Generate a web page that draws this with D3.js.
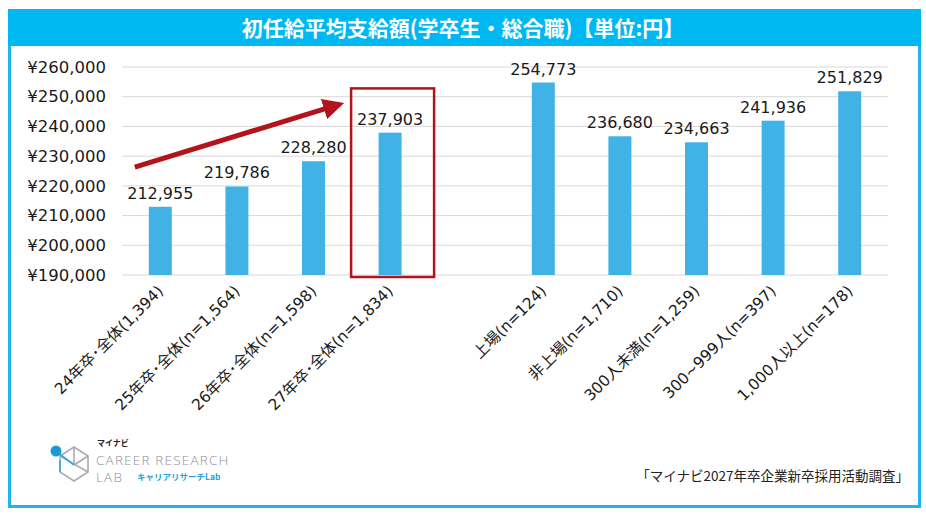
<!DOCTYPE html>
<html lang="ja">
<head>
<meta charset="utf-8">
<script src="https://cdn.jsdelivr.net/npm/d3@7"></script>
<style>
  html, body { margin: 0; padding: 0; background: #fff; }
  svg { display: block; }
</style>
</head>
<body>
<svg id="chart" width="926" height="516"></svg>
<script>
// data
const categories = [
  '24年卒･全体(1,394)', '25年卒･全体(n=1,564)', '26年卒･全体(n=1,598)', '27年卒･全体(n=1,834)',
  'gap',
  '上場(n=124)', '非上場(n=1,710)', '300人未満(n=1,259)', '300~999人(n=397)', '1,000人以上(n=178)'
];
const values = [212955, 219786, 228280, 237903, null, 254773, 236680, 234663, 241936, 251829];
const yTicks = [190000, 200000, 210000, 220000, 230000, 240000, 250000, 260000];
const highlight = '27年卒･全体(n=1,834)';

const BLUE = '#1fb5ec', BAR = '#41b2e6', RED = '#b3141b';
const NUM_FONT = "'DejaVu Sans', 'Noto Sans CJK JP', sans-serif";
const JP_FONT = "'Noto Sans CJK JP', sans-serif";

const svg = d3.select('#chart');

// ── Frame + title bar ──────────────────────────
svg.append('rect')
  .attr('x', 9.5).attr('y', 10.5).attr('width', 910).attr('height', 496)
  .attr('fill', '#fff').attr('stroke', BLUE).attr('stroke-width', 3);
svg.append('rect')
  .attr('x', 8).attr('y', 9).attr('width', 913).attr('height', 37)
  .attr('fill', '#00b8f1');
svg.append('text')
  .attr('x', 463).attr('y', 28).attr('dy', '0.36em')
  .attr('text-anchor', 'middle')
  .attr('font-family', JP_FONT).attr('font-weight', 700).attr('font-size', 21)
  .attr('fill', '#fff')
  .text('初任給平均支給額(学卒生・総合職)【単位:円】');

// ── Scales ─────────────────────────────────────
const x = d3.scaleBand().domain(categories).range([122, 888]).paddingInner(0.7).paddingOuter(0.35);
const y = d3.scaleLinear().domain([190000, 260000]).range([275, 67]);

// gridlines
svg.append('g').selectAll('line')
  .data(yTicks).join('line')
  .attr('x1', 122).attr('x2', 888)
  .attr('y1', d => y(d)).attr('y2', d => y(d))
  .attr('stroke', '#d9d9d9').attr('stroke-width', 1);

// y axis labels
const yAxis = svg.append('g')
  .attr('transform', 'translate(106,0)')
  .call(d3.axisLeft(y).tickValues(yTicks).tickSize(0).tickPadding(0)
    .tickFormat(d => '¥' + d3.format(',')(d)));
yAxis.select('.domain').remove();
yAxis.selectAll('text')
  .attr('font-family', NUM_FONT).attr('font-size', 16.5).attr('fill', '#1a1a1a');

// bars
const rows = categories.map((c, i) => ({ c, v: values[i] })).filter(d => d.v != null);

svg.append('g').selectAll('rect')
  .data(rows).join('rect')
  .attr('x', d => x(d.c)).attr('width', x.bandwidth())
  .attr('y', d => y(d.v)).attr('height', d => y(190000) - y(d.v))
  .attr('fill', BAR);

// value labels
svg.append('g').selectAll('text')
  .data(rows).join('text')
  .attr('x', d => x(d.c) + x.bandwidth() / 2)
  .attr('y', d => y(d.v) - 8)
  .attr('text-anchor', 'middle')
  .attr('font-family', NUM_FONT).attr('font-size', 16).attr('fill', '#1a1a1a')
  .text(d => d3.format(',')(d.v));

// x labels, rotated
svg.append('g').selectAll('text')
  .data(rows).join('text')
  .attr('transform', d => `translate(${x(d.c) + x.bandwidth() / 2 + 4},${292}) rotate(-45)`)
  .attr('text-anchor', 'end')
  .attr('font-family', NUM_FONT).attr('font-size', 15.5).attr('fill', '#1a1a1a')
  .text(d => d.c);

// ── Highlight box + trend arrow ────────────────
const hx = x(highlight) + x.bandwidth() / 2;
svg.append('rect')
  .attr('x', hx - 39).attr('y', y(252800))
  .attr('width', 83).attr('height', y(190000) - y(252800) + 2)
  .attr('fill', 'none').attr('stroke', RED).attr('stroke-width', 2.5);

const defs = svg.append('defs');
defs.append('marker')
  .attr('id', 'arrowhead').attr('viewBox', '0 0 10 10')
  .attr('refX', 8).attr('refY', 5)
  .attr('markerWidth', 4.2).attr('markerHeight', 4.2)
  .attr('orient', 'auto')
  .append('path').attr('d', 'M0,0 L10,5 L0,10 Z').attr('fill', RED);

const ax0 = x(categories[0]) - 14, ay0 = y(226300);
const ax1 = hx - 50, ay1 = y(247500);
svg.append('line')
  .attr('x1', ax0).attr('y1', ay0).attr('x2', ax1).attr('y2', ay1)
  .attr('stroke', RED).attr('stroke-width', 5)
  .attr('marker-end', 'url(#arrowhead)');

// ── Logo (approximation) ───────────────────────
const logo = svg.append('g');
logo.append('path')
  .attr('d', 'M60,456 L60,472 L74,481 L88,472 L88,456 L74,447 Z M74,447 L74,465 M60,456 L88,472 M74,465 L88,456')
  .attr('fill', 'none').attr('stroke', '#a7adb3').attr('stroke-width', 1.6);
logo.append('path')
  .attr('d', 'M57,452 L74,465 M60,460 L60,472')
  .attr('fill', 'none').attr('stroke', '#35a8df').attr('stroke-width', 1.6);
logo.append('circle').attr('cx', 56).attr('cy', 451).attr('r', 5.5).attr('fill', '#1c9ad6');
logo.append('text')
  .attr('x', 97).attr('y', 446)
  .attr('font-family', JP_FONT).attr('font-weight', 700).attr('font-size', 8).attr('fill', '#222')
  .text('マイナビ');
logo.append('text')
  .attr('x', 96).attr('y', 465)
  .attr('font-family', "'Open Sans', sans-serif").attr('font-weight', 300).attr('font-size', 13.5)
  .attr('letter-spacing', 1.2)
  .attr('fill', '#8c9197')
  .text('CAREER RESEARCH');
logo.append('text')
  .attr('x', 96).attr('y', 482)
  .attr('font-family', "'Open Sans', sans-serif").attr('font-weight', 300).attr('font-size', 13.5)
  .attr('letter-spacing', 1.2)
  .attr('fill', '#8c9197')
  .text('LAB');
logo.append('text')
  .attr('x', 137).attr('y', 480)
  .attr('font-family', JP_FONT).attr('font-weight', 700).attr('font-size', 8.5).attr('fill', '#2a9fd8')
  .text('キャリアリサーチLab');

// source note
svg.append('text')
  .attr('x', 909).attr('y', 476).attr('dy', '0.35em')
  .attr('text-anchor', 'end')
  .attr('font-family', JP_FONT).attr('font-size', 13.5).attr('fill', '#222')
  .text('「マイナビ2027年卒企業新卒採用活動調査」');
</script>
</body>
</html>
